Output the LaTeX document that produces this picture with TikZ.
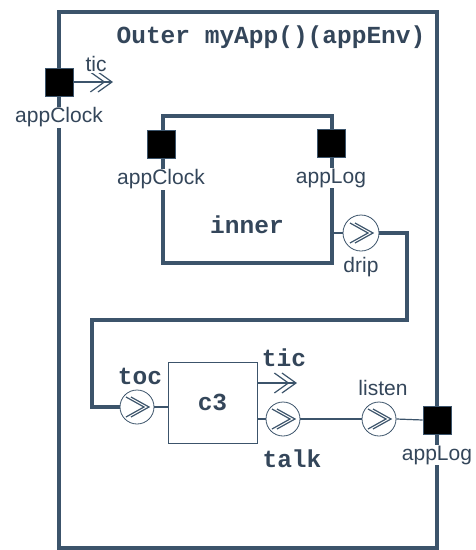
\documentclass[tikz,border=0pt]{standalone}
\usepackage{fontspec}
\setmainfont{Liberation Sans}
\setmonofont{Liberation Mono}
\usetikzlibrary{arrows.meta,positioning}
\definecolor{slate}{RGB}{60,84,107}
\definecolor{ink}{RGB}{52,70,90}
\tikzset{
  % boxes and wires
  outerbox/.style={draw=slate, line width=4.5pt, minimum width=378pt, minimum height=536pt},
  innerbox/.style={draw=slate, line width=3.5pt, minimum width=169pt, minimum height=147pt},
  partbox/.style={draw=slate, line width=1pt, minimum width=89pt, minimum height=81pt,
    font=\codefont, text=ink},
  wire/.style={draw=slate, line width=4pt},
  link/.style={draw=slate, line width=1.2pt},
  % double open chevron for outgoing ports
  ticarrow/.style={link, -{Straight Barb[length=14pt,width=20pt,sep=-8pt]Straight Barb[length=14pt,width=20pt]}},
  % black square ports on a box edge
  port/.style={draw=slate, line width=0.8pt, fill=black, minimum size=28pt, inner sep=0pt},
  % round ports with the chevron drawn inside
  inport/.style={circle, draw=slate, line width=0.8pt, fill=white, minimum size=#1, inner sep=0pt,
    path picture={
      \coordinate (pc) at (path picture bounding box.center);
      \foreach \dx in {0,-5}
        \draw[slate, line width=1.2pt] ([shift={(\dx pt-6pt,10pt)}]pc) -- ([shift={(\dx pt+12pt,0pt)}]pc)
          -- ([shift={(\dx pt-6pt,-10pt)}]pc);}},
  inport/.default=34pt,
  lbl/.style={font=\labelfont, text=ink, fill=white, inner sep=1pt},
  codelbl/.style={font=\codefont, text=ink, inner sep=1pt},
}
\newcommand{\labelfont}{\fontsize{21}{24}\selectfont}
\newcommand{\codefont}{\fontsize{24.5}{28}\selectfont\ttfamily\bfseries}

\begin{document}
\begin{tikzpicture}[x=1pt, y=-1pt]
  \useasboundingbox (0,0) rectangle (476,550);

  \node [outerbox] (outer) at (248,280) {};
  \node [codelbl] (title) at (271,37) {Outer myApp()(appEnv)};

  \node [innerbox] (inner) at (247.5,189.5) {};
  \node [codelbl] (innername) at (247,225) {inner};

  % ports of the outer box
  \node [port] (appClock) at (59,82) {};
  \coordinate (ticend) at (113,82);
  \draw [ticarrow] (appClock.east) -- (ticend);
  \node [lbl] at (96,64) (ticlbl) {tic};
  \node [port] (appLog) at (437,420) {};

  % ports of inner
  \node [port] (innerClock) at (161,144) {};
  \node [port] (innerLog) at (331,143) {};
  \node [inport=36pt] (drip) at (361,233) {};
  \draw [link] (drip.west) -- (drip.west -| inner.east);
  \node [lbl, below=5pt of drip] (driplbl) {drip};

  % part c3 and its ports
  \node [partbox] (c3) at (212.5,402.5) {c3};
  \node [inport] (toc) at (137,407) {};
  \draw [link] (toc.east) -- (toc.east -| c3.west);
  \node [codelbl] at (140,376) (toclbl) {toc};

  \coordinate (c3tic) at ([yshift=19.5pt]c3.east);
  \coordinate (c3ticend) at (297,383);
  \draw [ticarrow] (c3tic) -- (c3ticend);
  \node [codelbl] at (284,358) (c3ticlbl) {tic};

  \node [inport] (talk) at (283,419) {};
  \draw [link] (talk.west) -- (talk.west -| c3.east);
  \node [codelbl] at (292,459) (talklbl) {talk};

  \node [inport] (listen) at (379,419) {};
  \draw [link] (talk.east) -- (listen.west);
  \draw [link] (listen.east) -- (appLog.west);
  \node [lbl] at (383,388) (listenlbl) {listen};

  % thick wire from drip down to toc
  \coordinate (bendA) at (407,320);
  \coordinate (bendB) at (92,407);
  \draw [wire] (drip.east) -| (bendA) -| (bendB) -- (toc.west);

  % port names, masking the box lines
  \node [lbl, below=10pt of appClock] (appClocklbl) {appClock};
  \node [lbl, below=10pt of innerClock] (innerClocklbl) {appClock};
  \node [lbl, below=10pt of innerLog] (innerLoglbl) {appLog};
  \node [lbl, below=10pt of appLog] (appLoglbl) {appLog};

\end{tikzpicture}
\end{document}
